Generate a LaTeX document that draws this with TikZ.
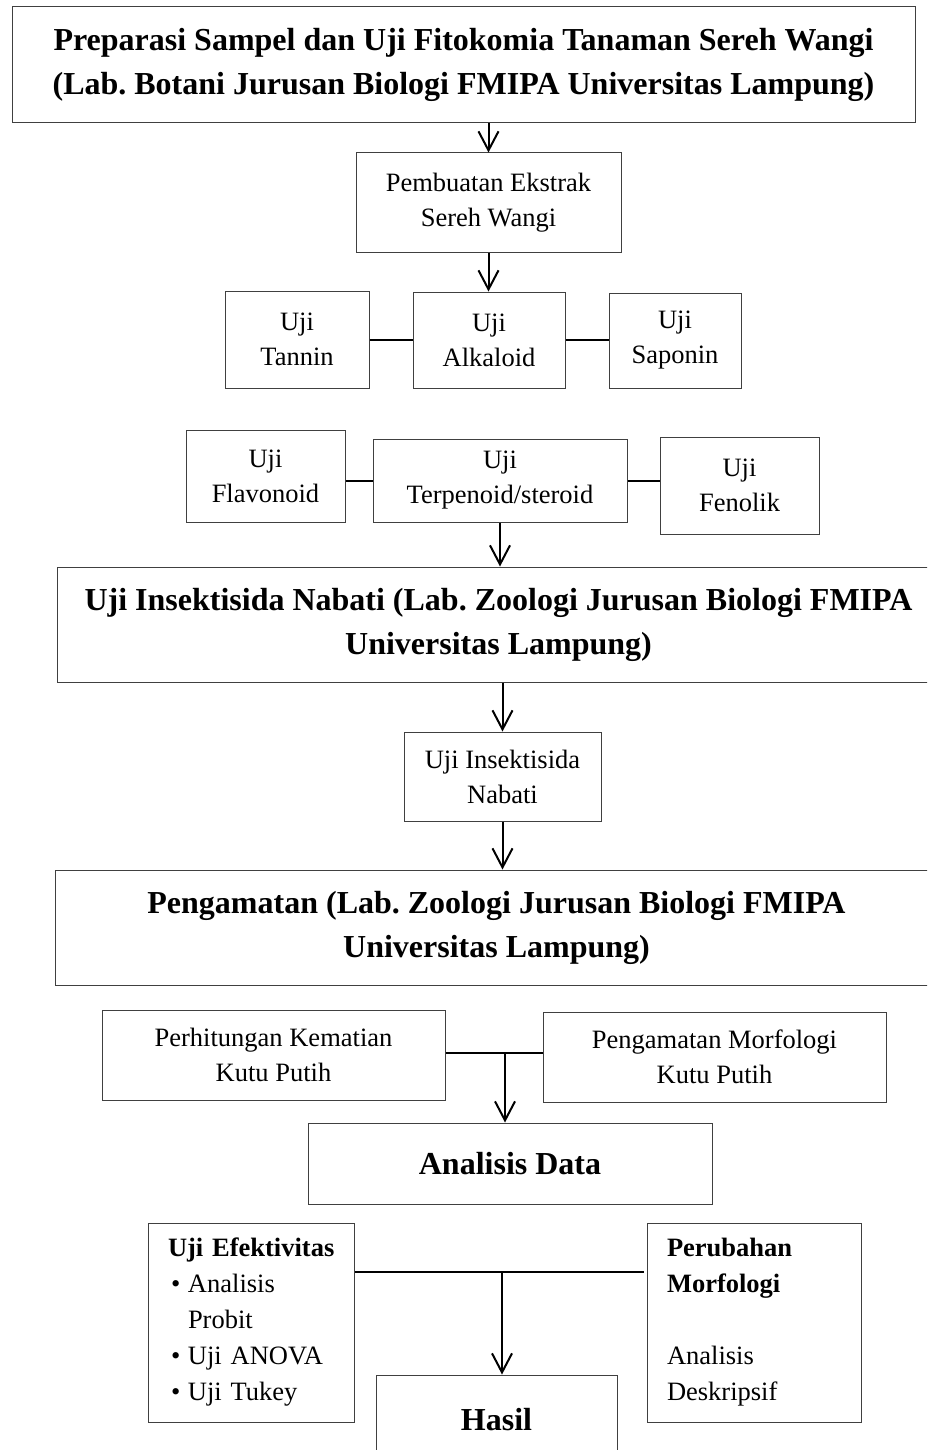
\documentclass[tikz,border=0pt]{standalone}
\usepackage{fontspec}
\setmainfont{Liberation Serif}
\usetikzlibrary{arrows.meta}
\frenchspacing
\begin{document}
\begin{tikzpicture}[x=1pt,y=-1pt,
  box/.style={draw=black!75, line width=1pt, inner sep=0pt, align=center,
    font=\fontsize{26.5}{35}\selectfont},
  bigbox/.style={box, font=\fontsize{32}{44}\selectfont\bfseries},
  listbox/.style={draw=black!75, line width=1pt, inner xsep=20pt, inner ysep=0pt, align=left,
    font=\fontsize{26.5}{36}\selectfont},
  arr/.style={-{Straight Barb[length=19pt,width=20pt,line width=2pt]}, line width=2pt},
  conn/.style={line width=2pt}]
\clip (0,0) rectangle (927,1450);
\fill[white] (0,0) rectangle (927,1450);

\node[bigbox, minimum width=903, minimum height=116] (title) at (463.5,65)
  {Preparasi Sampel dan Uji Fitokomia Tanaman Sereh Wangi\\(Lab. Botani Jurusan Biologi FMIPA Universitas Lampung)};
\node[box, minimum width=265, minimum height=99] (ekstrak) at (488.5,202.5) {Pembuatan Ekstrak\\Sereh Wangi};

\node[box, minimum width=144, minimum height=97] (tannin) at (297,339.5) {Uji\\Tannin};
\node[box, minimum width=152, minimum height=96] (alkaloid) at (489,340) {Uji\\Alkaloid};
\node[box, minimum width=132, minimum height=95] (saponin) at (675,340.5) {Uji\\Saponin};

\node[box, minimum width=159, minimum height=92] (flavonoid) at (265.5,476) {Uji\\Flavonoid};
\node[box, minimum width=254, minimum height=83] (terpenoid) at (500,480.5) {Uji\\Terpenoid/steroid};
\node[box, minimum width=159, minimum height=97] (fenolik) at (739.5,485.5) {Uji\\Fenolik};

\node[bigbox, minimum width=883, minimum height=115] (insek) at (498.5,624.5)
  {Uji Insektisida Nabati (Lab. Zoologi Jurusan Biologi FMIPA\\Universitas Lampung)};
\node[box, minimum width=197, minimum height=89] (nabati) at (502.5,776.5) {Uji Insektisida\\Nabati};
\node[bigbox, minimum width=883, minimum height=115] (pengamatan) at (496.5,927.5)
  {Pengamatan (Lab. Zoologi Jurusan Biologi FMIPA\\Universitas Lampung)};

\node[box, minimum width=343, minimum height=90] (perhitungan) at (273.5,1055) {Perhitungan Kematian\\Kutu Putih};
\node[box, minimum width=343, minimum height=90] (morfologi) at (714.5,1057) {Pengamatan Morfologi\\Kutu Putih};
\node[bigbox, minimum width=404, minimum height=81] (analisis) at (510,1163.5) {Analisis Data};

\node[listbox, text width=166, minimum height=199] (efektivitas) at (251,1322.5)
  {\mbox{\textbf{Uji Efektivitas}}\\
   \mbox{\hspace*{3pt}\makebox[17pt][l]{\textbullet}Analisis}\\
   \mbox{\hspace*{20pt}Probit}\\
   \mbox{\hspace*{3pt}\makebox[17pt][l]{\textbullet}Uji ANOVA}\\
   \mbox{\hspace*{3pt}\makebox[17pt][l]{\textbullet}Uji Tukey}};
\node[listbox, text width=174, minimum height=199] (perubahan) at (754,1322.5)
  {\textbf{Perubahan}\\\textbf{Morfologi}\\\strut\\Analisis\\Deskripsif};
\node[bigbox, minimum width=241, minimum height=90] (hasil) at (496.5,1420) {Hasil};

% connectors
\draw[arr] (title.south -| ekstrak.north) -- (ekstrak.north);
\draw[arr] (ekstrak.south) -- (ekstrak.south |- alkaloid.north);
\draw[conn] (tannin.east) -- (tannin.east -| alkaloid.west);
\draw[conn] (alkaloid.east) -- (alkaloid.east -| saponin.west);
\draw[conn] (terpenoid.west -| flavonoid.east) -- (terpenoid.west);
\draw[conn] (terpenoid.east) -- (terpenoid.east -| fenolik.west);
\draw[arr] (terpenoid.south) -- (terpenoid.south |- insek.north);
\draw[arr] (nabati.north |- insek.south) -- (nabati.north);
\draw[arr] (nabati.south) -- (nabati.south |- pengamatan.north);
\coordinate (j1) at (505,1053);
\draw[conn] (perhitungan.east |- j1) -- (morfologi.west |- j1);
\draw[arr] (j1) -- (j1 |- analisis.north);
\coordinate (j2) at (502,1272);
\coordinate (j2e) at (644,1272);
\draw[conn] (efektivitas.east |- j2) -- (j2e);
\draw[arr] (j2) -- (j2 |- hasil.north);
\end{tikzpicture}
\end{document}
